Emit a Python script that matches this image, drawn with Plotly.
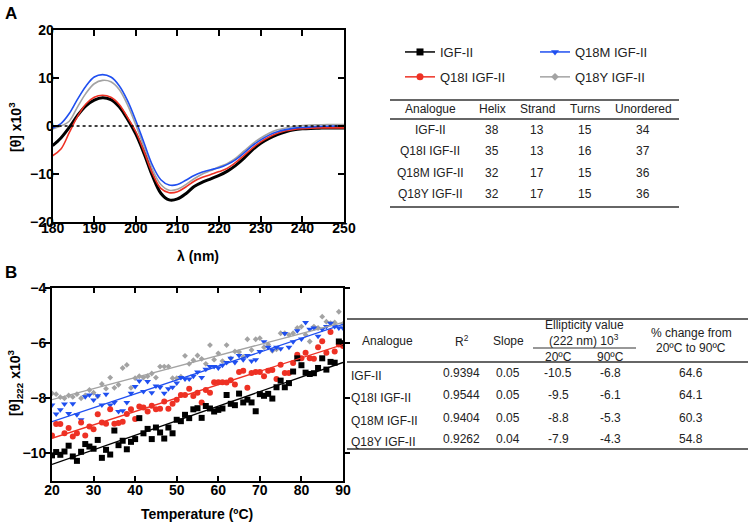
import plotly.graph_objects as go

# ---------------- DATA ----------------
series_names = ["IGF-II", "Q18I IGF-II", "Q18M IGF-II", "Q18Y IGF-II"]

# Panel A: CD spectra (x10^3)
wavelength = list(range(180, 251, 2))
cd_igf2 = [-4.1, -2.5, -0.3, 2.2, 4.2, 5.4, 5.9, 5.5, 4.0, 1.4, -1.7, -5.8, -10.4, -14.0, -15.4, -15.2,
           -14.1, -12.6, -11.7, -11.0, -10.3, -9.4, -8.2, -6.7, -5.0, -3.6, -2.6, -1.8, -1.2, -0.8,
           -0.6, -0.5, -0.45, -0.4, -0.4, -0.4]
cd_q18i = [-6.2, -4.8, -1.4, 2.0, 4.6, 6.0, 6.4, 6.0, 4.5, 1.8, -1.2, -5.4, -9.9, -13.0, -13.9, -13.7,
           -12.7, -11.5, -10.7, -10.1, -9.5, -8.8, -7.6, -6.1, -4.6, -3.3, -2.3, -1.5, -1.0, -0.7,
           -0.55, -0.45, -0.4, -0.4, -0.4, -0.4]
cd_q18m = [-0.4, 0.5, 2.6, 5.6, 8.3, 10.2, 10.7, 10.2, 8.4, 5.3, 1.1, -3.6, -8.2, -11.2, -12.3, -12.2,
           -11.3, -10.3, -9.6, -9.1, -8.7, -8.0, -7.0, -5.6, -4.1, -2.9, -1.9, -1.2, -0.75, -0.45,
           -0.3, -0.2, -0.1, -0.05, 0.0, 0.0]
cd_q18y = [-0.6, 0.0, 1.0, 4.0, 6.8, 8.8, 9.5, 9.2, 7.6, 4.4, 0.2, -4.5, -9.1, -12.2, -13.4, -13.2,
           -12.2, -11.0, -10.0, -9.3, -8.5, -7.8, -6.7, -5.2, -3.7, -2.5, -1.5, -0.8, -0.4, -0.1,
           0.1, 0.2, 0.25, 0.3, 0.3, 0.3]

# Panel B: thermal melt at 222 nm (x10^3)
temperature = list(range(20, 91))
melt_igf2 = [-10.07, -9.95, -10.05, -9.93, -9.72, -10.11, -10.27, -9.94, -9.66, -9.75, -9.83, -9.51,
             -10.16, -9.87, -10.04, -9.17, -9.70, -9.54, -9.85, -9.58, -9.48, -8.72, -9.27, -9.11,
             -9.48, -9.06, -9.24, -9.46, -9.06, -9.27, -8.78, -8.83, -8.60, -8.72, -8.40, -8.36,
             -8.71, -8.28, -8.37, -8.48, -8.42, -8.37, -7.88, -8.20, -8.25, -7.83, -8.15, -8.05,
             -8.15, -8.47, -7.85, -7.91, -7.84, -8.01, -7.60, -7.36, -7.60, -7.45, -7.03, -6.55,
             -6.80, -7.07, -7.12, -7.09, -6.90, -6.55, -6.96, -6.68, -6.71, -5.94, -6.00]
melt_q18i = [-9.35, -8.93, -8.93, -9.27, -9.08, -9.39, -9.27, -8.88, -9.35, -9.02, -9.12, -8.58,
             -8.88, -8.92, -8.40, -8.92, -8.90, -8.85, -8.57, -8.40, -8.75, -8.30, -8.33, -8.48,
             -8.27, -8.40, -8.38, -8.12, -8.38, -8.20, -8.05, -7.88, -7.88, -7.65, -7.92, -7.80,
             -8.15, -7.70, -7.80, -7.42, -7.42, -7.42, -7.43, -7.35, -7.50, -7.05, -7.00, -7.62,
             -7.08, -7.05, -7.05, -7.20, -7.00, -6.97, -7.30, -6.78, -7.08, -7.08, -6.72, -6.42,
             -6.55, -6.35, -6.55, -6.57, -6.15, -5.93, -6.35, -5.60, -6.30, -6.05, -6.10]
melt_q18m = [-8.24, -8.57, -8.42, -8.21, -8.55, -8.20, -8.60, -8.78, -7.94, -7.88, -8.06, -7.91,
             -8.24, -7.85, -8.24, -8.15, -8.48, -8.45, -8.15, -7.82, -7.57, -7.37, -7.75, -7.39,
             -7.80, -7.55, -7.60, -7.82, -7.65, -7.60, -7.45, -7.25, -7.30, -7.30, -7.20, -7.05,
             -7.25, -6.95, -6.85, -6.85, -6.90, -6.80, -6.70, -6.55, -6.70, -6.45, -6.60, -6.45,
             -6.65, -6.60, -6.30, -5.95, -6.15, -6.25, -6.15, -6.20, -5.65, -6.15, -5.95, -5.55,
             -5.85, -5.25, -5.50, -5.45, -5.75, -5.50, -5.40, -5.28, -5.40, -5.45, -5.45]
melt_q18y = [-7.82, -7.85, -7.96, -8.00, -7.90, -7.95, -7.85, -8.00, -7.90, -7.70, -7.80, -7.93,
             -7.48, -7.65, -7.25, -7.62, -7.51, -6.90, -6.79, -7.62, -7.27, -7.20, -7.25, -7.20,
             -7.10, -7.25, -6.85, -6.85, -6.85, -7.27, -7.27, -7.22, -6.46, -6.75, -6.62, -6.45,
             -6.57, -6.75, -6.07, -6.60, -6.37, -6.65, -6.07, -6.55, -6.30, -6.32, -6.50, -5.86,
             -6.25, -5.86, -5.82, -6.15, -6.05, -6.28, -6.22, -5.64, -5.64, -5.70, -5.64, -5.45,
             -5.40, -5.70, -5.94, -5.40, -5.45, -5.04, -5.22, -5.28, -5.25, -4.86, -5.30]

# Linear fits (value at 20 and 90 degC)
fit_temps = [20, 90]
fit_igf2 = [-10.40, -6.70]
fit_q18i = [-9.45, -6.05]
fit_q18m = [-8.85, -5.32]
fit_q18y = [-8.05, -5.25]

# Table A: secondary structure (%)
tableA_header = ["Analogue", "Helix", "Strand", "Turns", "Unordered"]
tableA_helix = [38, 35, 32, 32]
tableA_strand = [13, 13, 17, 17]
tableA_turns = [15, 16, 15, 15]
tableA_unordered = [34, 37, 36, 36]

# Table B: thermal stability
tableB_r2 = ["0.9394", "0.9544", "0.9404", "0.9262"]
tableB_slope = ["0.05", "0.05", "0.05", "0.04"]
tableB_20 = ["-10.5", "-9.5", "-8.8", "-7.9"]
tableB_90 = ["-6.8", "-6.1", "-5.3", "-4.3"]
tableB_change = ["64.6", "64.1", "60.3", "54.8"]

# ---------------- STYLE ----------------
W, H = 749, 528
colors = ["#000000", "#ee3124", "#1f4ff0", "#a3a3a3"]
symbols = ["square", "circle", "triangle-down", "diamond"]
FONT = "Liberation Sans, Arial, sans-serif"


def X(px):
    return px / W


def Y(py):
    return 1 - py / H


fig = go.Figure()

# Panel A traces
cd_all = [cd_igf2, cd_q18i, cd_q18m, cd_q18y]
for idx in [3, 0, 1, 2]:
    fig.add_trace(go.Scatter(
        x=wavelength, y=cd_all[idx], mode="lines", line_shape="spline",
        line=dict(color=colors[idx], width=3 if idx == 0 else 1.6),
        showlegend=False, xaxis="x", yaxis="y", hoverinfo="skip"))

# Legend entries (2 legends in 2 columns)
for idx, name in enumerate(series_names):
    fig.add_trace(go.Scatter(
        x=[None], y=[None], mode="lines+markers", name=name,
        line=dict(color=colors[idx], width=1.5),
        marker=dict(symbol=symbols[idx], color=colors[idx], size=7 if idx < 3 else 6),
        legend="legend" if idx < 2 else "legend2",
        legendgroup=name, xaxis="x", yaxis="y"))

# Panel B traces
melt_all = [melt_igf2, melt_q18i, melt_q18m, melt_q18y]
fit_all = [fit_igf2, fit_q18i, fit_q18m, fit_q18y]
for idx in [3, 2, 1, 0]:
    fig.add_trace(go.Scatter(
        x=temperature, y=melt_all[idx], mode="markers",
        marker=dict(symbol=symbols[idx], color=colors[idx], size=6 if idx < 3 else 4.5,
                    line=dict(width=0)),
        showlegend=False, xaxis="x2", yaxis="y2", hoverinfo="skip"))
for idx in [3, 2, 1, 0]:
    fig.add_trace(go.Scatter(
        x=fit_temps, y=fit_all[idx], mode="lines",
        line=dict(color=colors[idx], width=1.3),
        showlegend=False, xaxis="x2", yaxis="y2", hoverinfo="skip"))

tickfont = dict(family=FONT, size=14, color="black", weight="bold")
axA = dict(showgrid=False, zeroline=False, showline=True, linecolor="black", linewidth=2,
           ticks="inside", ticklen=6, tickwidth=2, tickcolor="black", mirror="allticks",
           tickfont=tickfont, automargin=False)

fig.update_layout(
    template="none",
    width=W, height=H, margin=dict(l=0, r=0, t=0, b=0, pad=0, autoexpand=False),
    paper_bgcolor="white", plot_bgcolor="white",
    xaxis=dict(axA, domain=[X(52.6), X(344)], range=[180, 250], tickvals=list(range(180, 251, 10)),
               anchor="y", ticklabelstandoff=-8),
    yaxis=dict(axA, domain=[Y(222), Y(30)], range=[-20, 20], tickvals=[-20, -10, 0, 10, 20],
               anchor="x", ticklabelstandoff=-6),
    xaxis2=dict(showgrid=False, zeroline=False, showline=True, linecolor="black", linewidth=2,
                ticks="inside", ticklen=5, tickwidth=2, tickcolor="black", mirror="allticks",
                tickfont=tickfont, domain=[X(52), X(343)], range=[20, 90],
                tickvals=list(range(20, 91, 10)), anchor="y2", automargin=False,
                ticklabelstandoff=-5),
    yaxis2=dict(showgrid=False, zeroline=False, showline=True, linecolor="black", linewidth=2,
                ticks="outside", ticklen=5, tickwidth=2, tickcolor="black", mirror="ticks",
                tickfont=tickfont, domain=[Y(481), Y(288)], range=[-11, -4],
                tickvals=[-10, -8, -6, -4], anchor="x2", automargin=False,
                ticklabelstandoff=-4),
    legend=dict(x=X(400), y=Y(37), xanchor="left", yanchor="top", bgcolor="rgba(0,0,0,0)",
                font=dict(family=FONT, size=13, color="#222"), tracegroupgap=5,
                itemclick=False),
    legend2=dict(x=X(535), y=Y(37), xanchor="left", yanchor="top", bgcolor="rgba(0,0,0,0)",
                 font=dict(family=FONT, size=13, color="#222"), tracegroupgap=5,
                 itemclick=False),
)

# zero reference line in panel A
fig.add_shape(type="line", xref="x domain", yref="y", x0=0, x1=1, y0=0, y1=0,
              line=dict(color="black", width=1.5, dash="dot"))

ann = []
bold14 = dict(family=FONT, size=14, color="black")
# panel labels
ann.append(dict(text="<b>A</b>", x=X(3), y=Y(2), xanchor="left", yanchor="top",
                font=dict(family=FONT, size=17, color="black")))
ann.append(dict(text="<b>B</b>", x=X(3), y=Y(261), xanchor="left", yanchor="top",
                font=dict(family=FONT, size=17, color="black")))
# axis titles
ann.append(dict(text="<b>λ (nm)</b>", x=X(198), y=Y(256), xanchor="center", yanchor="middle",
                font=bold14))
ann.append(dict(text="<b>Temperature (ºC)</b>", x=X(197), y=Y(514), xanchor="center",
                yanchor="middle", font=bold14))
ann.append(dict(text="<b>[θ] x10<sup>3</sup></b>", x=X(4), y=Y(127), xanchor="left",
                yanchor="middle", textangle=-90, font=bold14))
ann.append(dict(text="<b>[θ]<sub>222</sub> x10<sup>3</sup></b>", x=X(3), y=Y(383),
                xanchor="left", yanchor="middle", textangle=-90, font=bold14))

tfont = dict(family=FONT, size=12, color="#222")
# Table A
colA = [430, 492, 537, 585, 643]
rowsA = [130, 151, 173, 194]
for c, h in zip(colA, tableA_header):
    ann.append(dict(text=h, x=X(c), y=Y(109), xanchor="center", yanchor="middle", font=tfont))
for r, row in enumerate(zip(series_names, tableA_helix, tableA_strand, tableA_turns,
                            tableA_unordered)):
    for c, v in zip(colA, row):
        ann.append(dict(text=str(v), x=X(c), y=Y(rowsA[r]), xanchor="center", yanchor="middle",
                        font=tfont))
for yy in [100, 119, 207]:
    fig.add_shape(type="line", xref="paper", yref="paper", x0=X(390), x1=X(679), y0=Y(yy),
                  y1=Y(yy), line=dict(color="#333", width=1.5))

# Table B
hdrB = [("Analogue", 387, 341), ("R<sup>2</sup>", 462, 341), ("Slope", 508, 341),
        ("Ellipticity value", 584, 325), ("(222 nm) 10<sup>3</sup>", 584, 340),
        ("20ºC", 558, 357), ("90ºC", 610, 357), ("% change from", 691, 333),
        ("20ºC to 90ºC", 691, 348)]
for t, xx, yy in hdrB:
    ann.append(dict(text=t, x=X(xx), y=Y(yy), xanchor="center", yanchor="middle", font=tfont))
rowsB = [373, 395, 418, 439]
colB = [462, 508, 558, 610, 691]
for r, name in enumerate(series_names):
    ann.append(dict(text=name, x=X(349), y=Y(rowsB[r] + 3), xanchor="left", yanchor="middle",
                    font=tfont))
    vals = [tableB_r2[r], tableB_slope[r], tableB_20[r], tableB_90[r], tableB_change[r]]
    for c, v in zip(colB, vals):
        ann.append(dict(text=v, x=X(c), y=Y(rowsB[r]), xanchor="center", yanchor="middle",
                        font=tfont))
for yy in [319, 362, 449]:
    fig.add_shape(type="line", xref="paper", yref="paper", x0=X(347), x1=X(748), y0=Y(yy),
                  y1=Y(yy), line=dict(color="#333", width=1.5))
fig.add_shape(type="line", xref="paper", yref="paper", x0=X(533), x1=X(636), y0=Y(348),
              y1=Y(348), line=dict(color="#333", width=1.2))

for a in ann:
    a.update(xref="paper", yref="paper", showarrow=False)
fig.update_layout(annotations=ann)

fig.write_html("out.html", config={"displayModeBar": False},
               post_script="document.body.style.margin='0';")
